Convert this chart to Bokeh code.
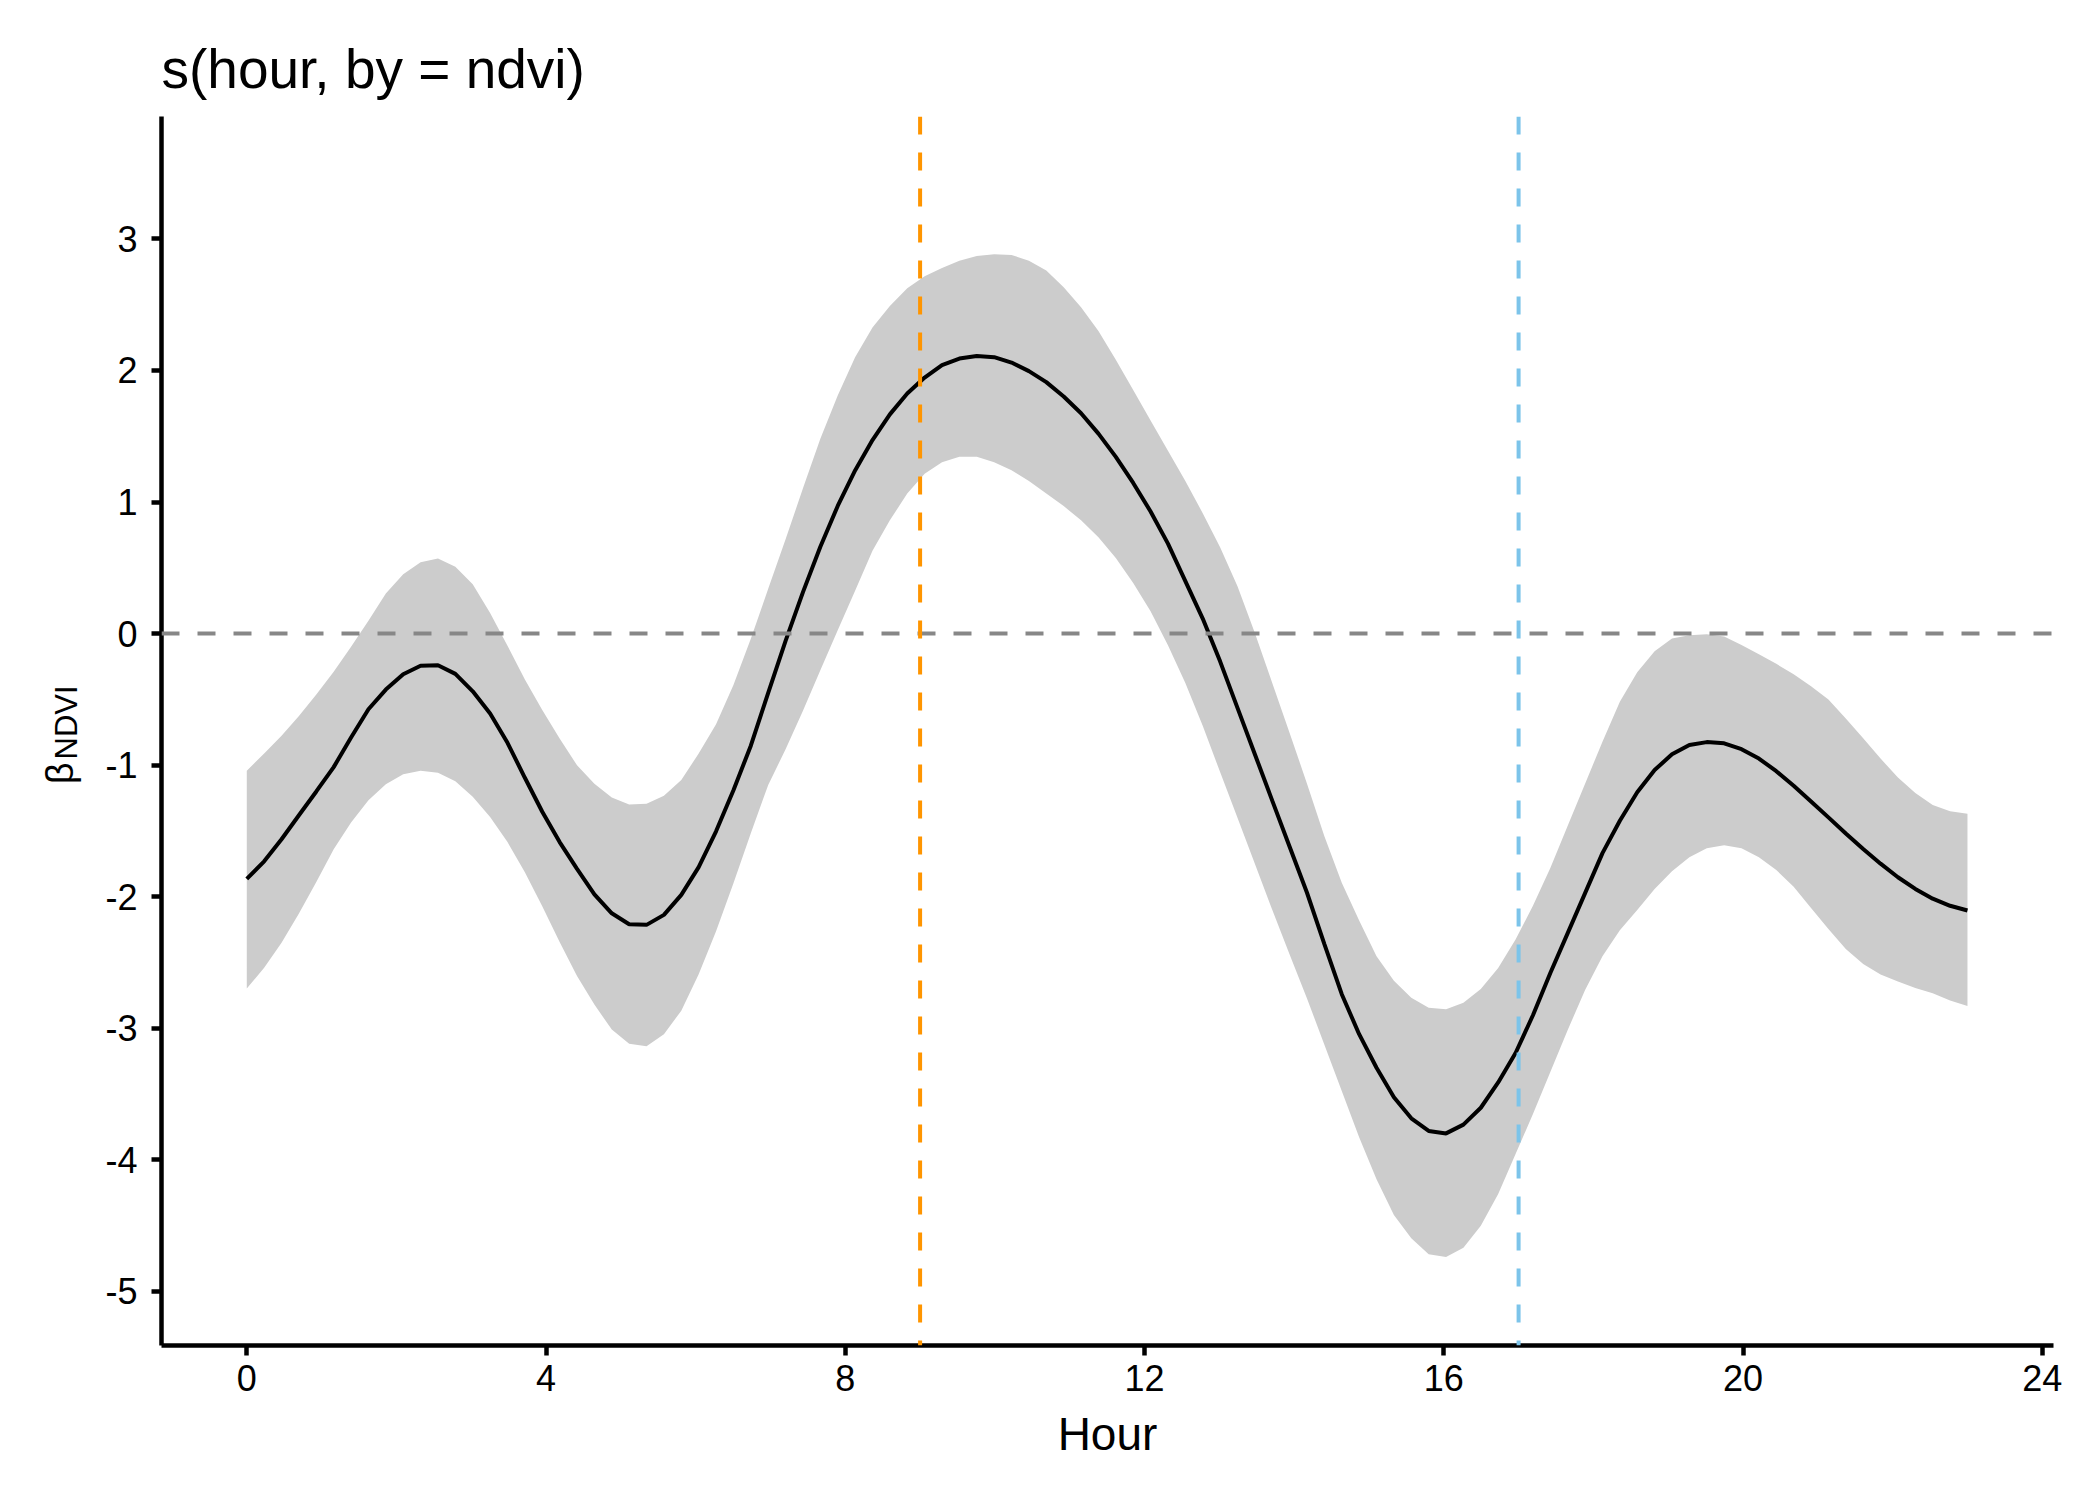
import numpy as np
from bokeh.plotting import figure
from bokeh.models import Span, LinearAxis, FixedTicker, ColumnDataSource, Range1d
from bokeh.embed import file_html
from bokeh.resources import INLINE

# ---- data ----
n_points = 100
hour = [23.0 * i / (n_points - 1) for i in range(n_points)]

fit = [
    -1.864, -1.731, -1.563, -1.381, -1.200, -1.015, -0.790, -0.575, -0.426, -0.309,
    -0.244, -0.241, -0.306, -0.439, -0.607, -0.830, -1.096, -1.354, -1.585, -1.788,
    -1.982, -2.126, -2.209, -2.214, -2.138, -1.986, -1.775, -1.503, -1.191, -0.852,
    -0.450, -0.055, 0.315, 0.660, 0.970, 1.240, 1.471, 1.666, 1.824, 1.946,
    2.041, 2.090, 2.109, 2.101, 2.060, 1.995, 1.911, 1.802, 1.675, 1.520,
    1.343, 1.145, 0.928, 0.684, 0.399, 0.114, -0.211, -0.565, -0.917, -1.270,
    -1.620, -1.970, -2.360, -2.741, -3.045, -3.300, -3.524, -3.684, -3.780, -3.799,
    -3.732, -3.604, -3.412, -3.188, -2.901, -2.580, -2.277, -1.973, -1.669, -1.423,
    -1.206, -1.037, -0.918, -0.847, -0.825, -0.834, -0.879, -0.950, -1.046, -1.157,
    -1.276, -1.397, -1.519, -1.637, -1.749, -1.852, -1.941, -2.015, -2.069, -2.105,
]

upper = [
    -1.042, -0.912, -0.776, -0.627, -0.464, -0.290, -0.100, 0.098, 0.304, 0.451,
    0.543, 0.570, 0.508, 0.375, 0.157, -0.092, -0.350, -0.581, -0.798, -1.001,
    -1.142, -1.245, -1.300, -1.294, -1.232, -1.112, -0.912, -0.689, -0.391, -0.040,
    0.340, 0.716, 1.104, 1.480, 1.810, 2.100, 2.326, 2.489, 2.625, 2.715,
    2.779, 2.834, 2.869, 2.883, 2.878, 2.834, 2.760, 2.633, 2.480, 2.299,
    2.081, 1.851, 1.620, 1.390, 1.159, 0.915, 0.657, 0.359, 0.005, -0.375,
    -0.755, -1.141, -1.540, -1.893, -2.181, -2.453, -2.638, -2.767, -2.843, -2.856,
    -2.805, -2.702, -2.542, -2.325, -2.069, -1.781, -1.461, -1.141, -0.822, -0.518,
    -0.294, -0.134, -0.038, -0.013, -0.006, -0.022, -0.087, -0.157, -0.230, -0.310,
    -0.400, -0.502, -0.646, -0.796, -0.950, -1.094, -1.212, -1.302, -1.350, -1.370,
]

lower = [
    -2.698, -2.540, -2.350, -2.128, -1.889, -1.639, -1.435, -1.267, -1.145, -1.069,
    -1.042, -1.058, -1.122, -1.240, -1.395, -1.585, -1.815, -2.072, -2.345, -2.602,
    -2.820, -3.010, -3.118, -3.136, -3.045, -2.866, -2.589, -2.262, -1.897, -1.517,
    -1.150, -0.880, -0.586, -0.279, 0.025, 0.326, 0.630, 0.861, 1.064, 1.214,
    1.303, 1.343, 1.343, 1.303, 1.241, 1.159, 1.064, 0.969, 0.861, 0.733,
    0.575, 0.385, 0.169, -0.089, -0.375, -0.700, -1.053, -1.400, -1.750, -2.100,
    -2.440, -2.773, -3.125, -3.477, -3.828, -4.148, -4.420, -4.596, -4.717, -4.739,
    -4.669, -4.500, -4.260, -3.956, -3.652, -3.332, -3.013, -2.709, -2.453, -2.255,
    -2.101, -1.941, -1.807, -1.701, -1.631, -1.609, -1.631, -1.701, -1.797, -1.925,
    -2.085, -2.245, -2.398, -2.511, -2.591, -2.645, -2.693, -2.734, -2.789, -2.830,
]

x_ticks = [0, 4, 8, 12, 16, 20, 24]
y_ticks = [-5, -4, -3, -2, -1, 0, 1, 2, 3]
vline_morning = 9
vline_evening = 17
hline_zero = 0

title_text = "s(hour, by = ndvi)"
x_label = "Hour"
y_label_main = "\u03b2"
y_label_sub = "NDVI"

FONT = "Liberation Sans"
NBSP = "\u00a0"

src = ColumnDataSource(dict(hour=hour, fit=fit, upper=upper, lower=lower))

p = figure(
    width=2084, height=1484,
    x_range=Range1d(-1.14, 24.15), y_range=Range1d(-5.411, 3.930),
    output_backend="svg", toolbar_location=None,
    min_border_left=161, min_border_right=31,
    min_border_top=116, min_border_bottom=139,
)
p.background_fill_color = "white"
p.border_fill_color = "white"
p.outline_line_color = None
p.grid.visible = False

# title
p.title.text = title_text
p.title.text_font = FONT
p.title.text_font_size = "55px"
p.title.text_font_style = "normal"
p.title.text_color = "black"
p.title.align = "left"
p.title.offset = 0
p.title.standoff = 34

# ribbon + fit
p.varea(x="hour", y1="lower", y2="upper", source=src, fill_color="#cccccc", fill_alpha=1.0)
p.line(x="hour", y="fit", source=src, line_color="black", line_width=4)

# reference lines
p.add_layout(Span(location=vline_evening, dimension="height", line_color="#7cc4ea",
                  line_width=4, line_dash="18 18"))
p.add_layout(Span(location=hline_zero, dimension="width", line_color="#878787",
                  line_width=4, line_dash="18 18"))
p.add_layout(Span(location=vline_morning, dimension="height", line_color="#ff9500",
                  line_width=4, line_dash="18 18"))

# axes
for ax in (p.xaxis[0], p.yaxis[0]):
    ax.axis_line_color = "black"
    ax.axis_line_width = 4.5
    ax.major_tick_line_color = "black"
    ax.major_tick_line_width = 4.5
    ax.major_tick_out = 10
    ax.major_tick_in = 0
    ax.minor_tick_line_color = None
    ax.major_label_text_font = FONT
    ax.major_label_text_font_size = "36px"
    ax.major_label_text_color = "black"

p.xaxis.ticker = FixedTicker(ticks=x_ticks)
p.yaxis.ticker = FixedTicker(ticks=y_ticks)
p.yaxis.major_label_overrides = {v: str(v) for v in y_ticks}
p.xaxis.major_label_standoff = 9
p.yaxis.major_label_standoff = 14

p.xaxis.axis_label = x_label
p.xaxis.axis_label_text_font = FONT
p.xaxis.axis_label_text_font_size = "46px"
p.xaxis.axis_label_text_font_style = "normal"
p.xaxis.axis_label_text_color = "black"
p.xaxis.axis_label_standoff = 14

# y axis title: subscript "NDVI" as the axis label (nudged up with no-break spaces)
p.yaxis.axis_label = NBSP * 2 + y_label_sub
p.yaxis.axis_label_text_font = FONT
p.yaxis.axis_label_text_font_size = "31px"
p.yaxis.axis_label_text_font_style = "normal"
p.yaxis.axis_label_text_color = "black"
p.yaxis.axis_label_standoff = 18

# the large beta: label of a bare extra axis just outside (nudged down with no-break spaces)
beta_axis = LinearAxis(
    ticker=FixedTicker(ticks=[], minor_ticks=[]),
    axis_label=y_label_main + NBSP * 8,
    axis_label_standoff=-34,
    axis_label_text_font=FONT, axis_label_text_font_size="38px",
    axis_label_text_font_style="normal", axis_label_text_color="black",
    axis_line_color=None, major_tick_line_color=None, minor_tick_line_color=None,
    major_tick_out=0, major_tick_in=0, minor_tick_out=0, minor_tick_in=0,
    major_label_standoff=0,
)
p.add_layout(beta_axis, "left")

open("out.html", "w").write(file_html(p, INLINE))
